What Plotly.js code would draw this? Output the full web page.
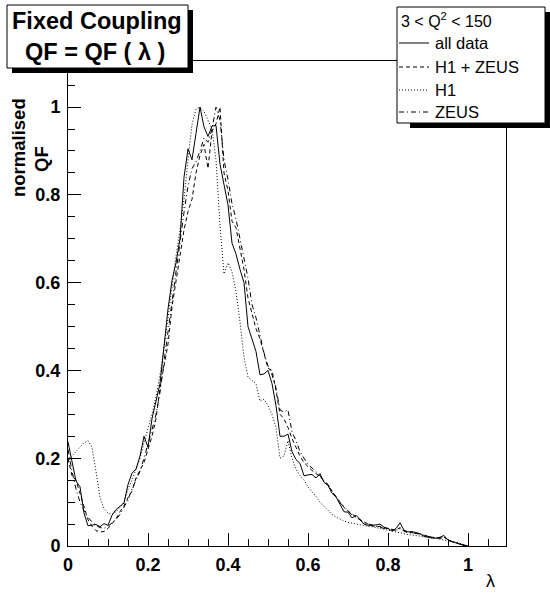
<!DOCTYPE html>
<html>
<head>
<meta charset="utf-8">
<script src="https://cdn.plot.ly/plotly-3.0.1.min.js"></script>
<style>html,body{margin:0;padding:0;background:#fff;}#chart{width:550px;height:596px;}</style>
</head>
<body>
<div id="chart"></div>
<script>
// lambda bin centres
const lambda = [0.00,0.01,0.02,0.03,0.04,0.05,0.06,0.07,0.08,0.09,
0.10,0.11,0.12,0.13,0.14,0.15,0.16,0.17,0.18,0.19,
0.20,0.21,0.22,0.23,0.24,0.25,0.26,0.27,0.28,0.29,
0.30,0.31,0.32,0.33,0.34,0.35,0.36,0.37,0.38,0.39,
0.40,0.41,0.42,0.43,0.44,0.45,0.46,0.47,0.48,0.49,
0.50,0.51,0.52,0.53,0.54,0.55,0.56,0.57,0.58,0.59,
0.60,0.61,0.62,0.63,0.64,0.65,0.66,0.67,0.68,0.69,
0.70,0.71,0.72,0.73,0.74,0.75,0.76,0.77,0.78,0.79,
0.80,0.81,0.82,0.83,0.84,0.85,0.86,0.87,0.88,0.89,
0.90,0.91,0.92,0.93,0.94,0.95,0.96,0.97,0.98,0.99,
1.00];

const allData = [.237,.19,.148,.135,.075,.046,.048,.049,.044,.051,
.047,.07,.083,.09,.098,.14,.166,.175,.205,.25,
.225,.29,.33,.37,.455,.54,.605,.645,.70,.84,
.905,.88,.94,1.0,.955,.933,.957,.958,.87,.82,
.777,.69,.665,.63,.60,.50,.47,.443,.39,.392,
.40,.37,.32,.25,.25,.255,.215,.197,.188,.16,
.162,.163,.155,.165,.145,.138,.12,.112,.095,.078,
.077,.064,.07,.06,.05,.047,.047,.048,.05,.043,
.04,.034,.04,.053,.036,.032,.033,.031,.028,.022,
.02,.018,.018,.02,.024,.013,.01,.007,.003,.001,
0];

const h1zeus = [.20,.16,.15,.12,.085,.06,.045,.035,.032,.033,
.04,.05,.062,.078,.092,.11,.125,.155,.172,.19,
.22,.25,.29,.36,.41,.46,.545,.60,.66,.72,
.762,.79,.85,.89,.915,.86,.945,.962,1.0,.85,
.81,.74,.725,.675,.63,.565,.53,.495,.472,.435,
.405,.40,.355,.30,.29,.27,.245,.225,.205,.19,
.18,.172,.165,.158,.148,.14,.125,.112,.10,.088,
.08,.072,.066,.06,.054,.05,.046,.044,.045,.041,
.04,.038,.036,.042,.035,.032,.03,.03,.027,.025,
.022,.02,.019,.018,.02,.014,.01,.007,.004,.002,
0];

const h1 = [.19,.205,.215,.225,.235,.24,.225,.17,.11,.085,
.075,.072,.078,.088,.10,.13,.15,.175,.20,.235,
.265,.30,.34,.39,.45,.52,.60,.66,.72,.79,
.88,.96,.995,1.0,.99,.97,.95,.88,.73,.62,
.645,.625,.58,.51,.43,.385,.378,.37,.33,.335,
.32,.30,.27,.20,.205,.24,.20,.175,.16,.15,
.135,.125,.113,.10,.09,.08,.072,.066,.061,.057,
.054,.052,.05,.048,.046,.045,.044,.042,.04,.038,
.035,.033,.031,.03,.028,.026,.025,.024,.023,.022,
.021,.019,.017,.015,.013,.011,.01,.009,.006,.003,
0];

const zeus = [.22,.17,.13,.10,.08,.065,.055,.047,.042,.04,
.045,.052,.06,.072,.088,.105,.13,.15,.17,.20,
.23,.265,.30,.35,.42,.49,.56,.63,.70,.76,
.82,.86,.875,.90,.93,.92,.95,1.0,.97,.88,
.835,.78,.745,.70,.655,.61,.55,.52,.48,.44,
.41,.39,.36,.31,.305,.31,.26,.24,.215,.20,
.185,.178,.17,.16,.148,.14,.125,.11,.098,.09,
.08,.07,.065,.06,.053,.05,.047,.045,.043,.04,
.04,.037,.036,.04,.034,.03,.03,.029,.027,.024,
.022,.02,.018,.018,.019,.013,.01,.007,.004,.002,
0];

const seriesNames = ["all data", "H1 + ZEUS", "H1", "ZEUS"];
const legendHeader = "3 < Q<sup>2</sup> < 150";
const titleLines = ["Fixed Coupling", "QF = QF ( λ )"];
const yTitleLines = ["normalised", "QF"];
const xTitle = "λ";

const dashes = ["solid", "4px,3px", "1px,2px", "5px,3px,1px,3px"];
const yValues = [allData, h1zeus, h1, zeus];

// plot area in pixels
const W = 550, H = 596;
const PL = 68, PR = 506, PT = 61, PB = 546;
const fx = x => (x - PL) / (PR - PL);
const fy = y => (PB - y) / (PB - PT);

const traces = yValues.map((v, i) => ({
  x: lambda, y: v, type: "scatter", mode: "lines", name: seriesNames[i],
  line: {color: "black", width: 1, dash: dashes[i]}, showlegend: false, hoverinfo: "skip"
}));

const FONT = "Liberation Sans, Arial, Helvetica, sans-serif";
const shapes = [];
const annotations = [];

function box(x0, y0, x1, y1, sx, sy) {
  shapes.push({type: "rect", xref: "paper", yref: "paper", layer: "above",
    x0: fx(x0 + sx), x1: fx(x1 + sx), y0: fy(y0 + sy), y1: fy(y1 + sy),
    fillcolor: "black", line: {width: 0}});
  shapes.push({type: "rect", xref: "paper", yref: "paper", layer: "above",
    x0: fx(x0), x1: fx(x1), y0: fy(y0), y1: fy(y1),
    fillcolor: "white", line: {color: "black", width: 1}});
}

// title box
box(7, 5, 188, 68, 5, 5);
annotations.push({xref: "paper", yref: "paper", x: fx(97), y: fy(21), text: titleLines[0],
  showarrow: false, xanchor: "center", yanchor: "middle",
  font: {family: FONT, size: 23.5, color: "black", weight: "bold"}});
annotations.push({xref: "paper", yref: "paper", x: fx(95), y: fy(52), text: titleLines[1],
  showarrow: false, xanchor: "center", yanchor: "middle",
  font: {family: FONT, size: 23.5, color: "black", weight: "bold"}});

// legend box
box(397, 7, 545, 123, 13, 5);
annotations.push({xref: "paper", yref: "paper", x: fx(399), y: fy(20), text: legendHeader,
  showarrow: false, xanchor: "left", yanchor: "middle",
  font: {family: FONT, size: 16, color: "black"}});
const rowY = [43, 67, 90, 112];
seriesNames.forEach((n, i) => {
  shapes.push({type: "line", xref: "paper", yref: "paper", layer: "above",
    x0: fx(399), x1: fx(429), y0: fy(rowY[i]), y1: fy(rowY[i]),
    line: {color: "black", width: 1, dash: dashes[i]}});
  annotations.push({xref: "paper", yref: "paper", x: fx(433), y: fy(rowY[i]), text: n,
    showarrow: false, xanchor: "left", yanchor: "middle",
    font: {family: FONT, size: 16.5, color: "black"}});
});

// axis titles
annotations.push({xref: "paper", yref: "paper", x: fx(18), y: fy(148), text: yTitleLines[0],
  showarrow: false, textangle: -90, xanchor: "center", yanchor: "middle",
  font: {family: FONT, size: 18.5, color: "black", weight: "bold"}});
annotations.push({xref: "paper", yref: "paper", x: fx(42), y: fy(159), text: yTitleLines[1],
  showarrow: false, textangle: -90, xanchor: "center", yanchor: "middle",
  font: {family: FONT, size: 18.5, color: "black", weight: "bold"}});
annotations.push({xref: "paper", yref: "paper", x: fx(490), y: fy(581), text: xTitle,
  showarrow: false, xanchor: "center", yanchor: "middle",
  font: {family: FONT, size: 18, color: "black"}});

const axisCommon = {
  showgrid: false, zeroline: false, showline: true, linecolor: "black", linewidth: 1,
  mirror: true, ticks: "inside", ticklen: 13, tickwidth: 1, tickcolor: "black",
  tick0: 0, dtick: 0.2, fixedrange: true,
  tickfont: {family: FONT, size: 18, color: "black", weight: "bold"},
  minor: {dtick: 0.05, ticks: "inside", ticklen: 7, tickwidth: 1, tickcolor: "black", showgrid: false}
};

const layout = {
  width: W, height: H, autosize: false,
  margin: {l: PL, r: W - PR, t: PT, b: H - PB, pad: 0},
  paper_bgcolor: "white", plot_bgcolor: "white",
  showlegend: false,
  xaxis: Object.assign({}, axisCommon, {range: [0, 1.095], ticklabelstandoff: 2}),
  yaxis: Object.assign({}, axisCommon, {range: [0, 1.105], ticklabelstandoff: 3}),
  shapes: shapes, annotations: annotations
};

Plotly.newPlot("chart", traces, layout, {displayModeBar: false, staticPlot: true});
</script>
</body>
</html>
